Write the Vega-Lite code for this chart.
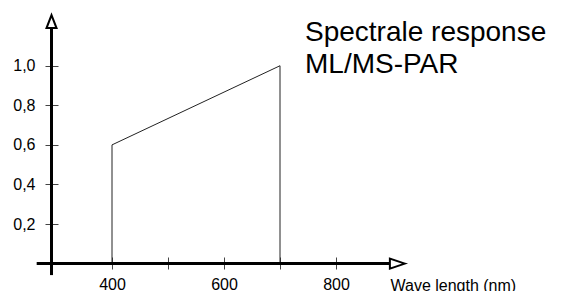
{
  "$schema": "https://vega.github.io/schema/vega-lite/v6.json",
  "width": 567,
  "height": 291,
  "autosize": {"type": "none"},
  "padding": 0,
  "background": "white",
  "config": {"view": {"stroke": null}, "font": "Liberation Sans"},
  "title": {
    "text": ["Spectrale response", "ML/MS-PAR"],
    "anchor": "start",
    "frame": "group",
    "orient": "top",
    "offset": 0,
    "dx": 305,
    "dy": 100.5,
    "fontSize": 28,
    "fontWeight": "normal",
    "font": "Liberation Sans",
    "color": "black",
    "lineHeight": 31.5,
    "baseline": "alphabetic"
  },
  "datasets": {
    "response": [
      {"i": 0, "x": 400, "y": 0},
      {"i": 1, "x": 400, "y": 0.6},
      {"i": 2, "x": 700, "y": 1.0},
      {"i": 3, "x": 700, "y": 0}
    ],
    "axislines": [
      {"x": 265.5, "x2": 915, "y": 0, "y2": 0},
      {"x": 292, "x2": 292, "y": -0.058, "y2": 1.22}
    ],
    "arrows": [
      {"x": 923, "y": 0, "dir": "right"},
      {"x": 292, "y": 1.256, "dir": "up"}
    ]
  },
  "layer": [
    {
      "data": {"name": "response"},
      "mark": {"type": "line", "color": "#222222", "strokeWidth": 1},
      "encoding": {
        "x": {
          "field": "x", "type": "quantitative",
          "scale": {"domain": [200, 1212.5], "zero": false, "nice": false},
          "axis": {
            "orient": "bottom", "offset": -34,
            "values": [400, 500, 600, 700, 800],
            "labelExpr": "datum.value % 200 == 0 ? datum.label : ''",
            "domain": false, "grid": false,
            "tickSize": 12, "tickColor": "#444444", "tickWidth": 1,
            "labelPadding": 20, "labelBaseline": "alphabetic",
            "labelFontSize": 16, "labelColor": "black", "labelFont": "Liberation Sans",
            "labelOverlap": false, "labelFlush": false,
            "title": "Wave length (nm)", "titleX": 390, "titleY": 33,
            "titleAlign": "left", "titleBaseline": "alphabetic",
            "titleFontSize": 16, "titleFontWeight": "normal", "titleColor": "black",
            "titleFont": "Liberation Sans"
          }
        },
        "y": {
          "field": "y", "type": "quantitative",
          "scale": {"domain": [-0.1384, 1.3322], "zero": false, "nice": false},
          "axis": {
            "orient": "left", "offset": -58,
            "values": [0.2, 0.4, 0.6, 0.8, 1.0],
            "labelExpr": "replace(format(datum.value, '.1f'), '.', ',')",
            "domain": false, "grid": false,
            "tickSize": 13, "tickColor": "#444444", "tickWidth": 1,
            "labelPadding": 10, "labelBaseline": "middle",
            "labelFontSize": 16, "labelColor": "black", "labelFont": "Liberation Sans",
            "labelOverlap": false, "labelFlush": false,
            "title": null
          }
        },
        "order": {"field": "i", "type": "quantitative"}
      }
    },
    {
      "data": {"name": "axislines"},
      "mark": {"type": "rule", "color": "black", "strokeWidth": 3, "strokeCap": "butt"},
      "encoding": {
        "x": {"field": "x", "type": "quantitative", "scale": {"domain": [200, 1212.5], "zero": false, "nice": false}},
        "x2": {"field": "x2"},
        "y": {"field": "y", "type": "quantitative", "scale": {"domain": [-0.1384, 1.3322], "zero": false, "nice": false}},
        "y2": {"field": "y2"}
      }
    },
    {
      "data": {"name": "arrows"},
      "mark": {"type": "point", "filled": false, "fill": "white", "fillOpacity": 1, "stroke": "black", "strokeWidth": 2, "opacity": 1, "size": 100},
      "encoding": {
        "x": {"field": "x", "type": "quantitative", "scale": {"domain": [200, 1212.5], "zero": false, "nice": false}},
        "y": {"field": "y", "type": "quantitative", "scale": {"domain": [-0.1384, 1.3322], "zero": false, "nice": false}},
        "shape": {
          "field": "dir", "type": "nominal",
          "scale": {"domain": ["right", "up"], "range": ["M0,0L-3,-1L-3,1Z", "M0,0L1,2.6L-1,2.6Z"]},
          "legend": null
        }
      }
    }
  ]
}
